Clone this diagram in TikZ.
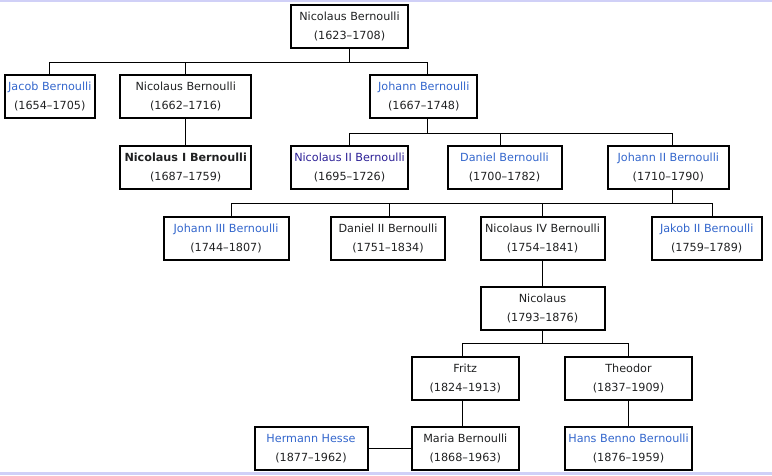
\documentclass[tikz,border=0pt]{standalone}
\usepackage{fontspec}
\setmainfont{DejaVu Sans}

\definecolor{linkblue}{RGB}{51,102,204}
\definecolor{visited}{RGB}{44,32,150}
\definecolor{ink}{RGB}{32,33,34}
\definecolor{band}{RGB}{208,208,247}

\newcommand{\wlink}[1]{\textcolor{linkblue}{#1}}
\newcommand{\wseen}[1]{\textcolor{visited}{#1}}

\begin{document}
\begin{tikzpicture}[
		x=1pt, y=-1pt,
		% Define styles
		person/.style={rectangle, draw=black, line width=2pt, minimum height=43pt, inner sep=0pt, align=center, text=ink, font=\fontsize{11.2}{19}\selectfont},
		branch/.style={draw=black, line width=1pt}
		]
		
		\useasboundingbox (0,0) rectangle (772,475);
		\fill[band] (0,0) rectangle (772,1.7);
		\fill[band] (0,472.3) rectangle (772,475);
		
		% Generation 1
		\node (nic1623) [person, minimum width=117pt] at (349.5,26.5) {Nicolaus Bernoulli\\(1623–1708)};
		
		% Generation 2
		\node (jacob) [person, minimum width=90pt] at (49.8,96.5) {\wlink{Jacob Bernoulli}\\(1654–1705)};
		\node (nic1662) [person, minimum width=131pt] at (185.7,96.5) {Nicolaus Bernoulli\\(1662–1716)};
		\node (johann) [person, minimum width=107pt] at (423.8,96.5) {\wlink{Johann Bernoulli}\\(1667–1748)};
		
		% Generation 3
		\node (nicI) [person, minimum width=131pt] at (185.7,167.5) {\textbf{Nicolaus I Bernoulli}\\(1687–1759)};
		\node (nicII) [person, minimum width=117pt] at (349.5,167.5) {\wseen{Nicolaus II Bernoulli}\\(1695–1726)};
		\node (daniel) [person, minimum width=114pt] at (504.5,167.5) {\wlink{Daniel Bernoulli}\\(1700–1782)};
		\node (johannII) [person, minimum width=121pt] at (668.3,167.5) {\wlink{Johann II Bernoulli}\\(1710–1790)};
		
		% Generation 4
		\node (johannIII) [person, minimum width=125pt] at (226,238) {\wlink{Johann III Bernoulli}\\(1744–1807)};
		\node (danielII) [person, minimum width=114pt] at (388,238) {Daniel II Bernoulli\\(1751–1834)};
		\node (nicIV) [person, minimum width=124pt] at (542.5,238) {Nicolaus IV Bernoulli\\(1754–1841)};
		\node (jakobII) [person, minimum width=110pt] at (706.7,238) {\wlink{Jakob II Bernoulli}\\(1759–1789)};
		
		% Generations 5 to 7
		\node (nicolaus) [person, minimum width=124pt] at (542.5,308.5) {Nicolaus\\(1793–1876)};
		\node (fritz) [person, minimum width=107pt] at (465.3,378.5) {Fritz\\(1824–1913)};
		\node (theodor) [person, minimum width=127pt] at (628.5,378.5) {Theodor\\(1837–1909)};
		\node (hesse) [person, minimum width=113pt] at (311,448.5) {\wlink{Hermann Hesse}\\(1877–1962)};
		\node (maria) [person, minimum width=107pt] at (465.3,448.5) {Maria Bernoulli\\(1868–1963)};
		\node (hans) [person, minimum width=127pt] at (628.5,448.5) {\wlink{Hans Benno Bernoulli}\\(1876–1959)};
		
		% Bars and drop points
		\coordinate (bar1) at (0,62.3);
		\coordinate (bar2) at (0,133.3);
		\coordinate (bar3) at (0,203.5);
		\coordinate (bar4) at (0,343.4);
		\coordinate (johann-up) at ([xshift=4pt]johann.north);
		\coordinate (johann-down) at ([xshift=4pt]johann.south);
		\coordinate (daniel-up) at ([xshift=-4pt]daniel.north);
		\coordinate (johannII-up) at ([xshift=4.4pt]johannII.north);
		\coordinate (johannII-down) at ([xshift=4.4pt]johannII.south);
		\coordinate (johannIII-up) at ([xshift=5.7pt]johannIII.north);
		\coordinate (danielII-up) at ([xshift=1.3pt]danielII.north);
		\coordinate (jakobII-up) at ([xshift=5.6pt]jakobII.north);
		\coordinate (fritz-up) at ([xshift=-3pt]fritz.north);
		\coordinate (fritz-down) at ([xshift=-3pt]fritz.south);
		\coordinate (maria-up) at ([xshift=-3pt]maria.north);
		
		% Draw connectors
		\draw [branch] (nic1623.south) -- (nic1623.south |- bar1);
		\draw [branch] (jacob.north) |- (johann-up |- bar1) -- (johann-up);
		\draw [branch] (nic1662.north) -- (nic1662.north |- bar1);
		\draw [branch] (nic1662.south) -- (nicI.north);
		
		\draw [branch] (johann-down) -- (johann-down |- bar2);
		\draw [branch] (nicII.north) |- (johannII-up |- bar2) -- (johannII-up);
		\draw [branch] (daniel-up) -- (daniel-up |- bar2);
		
		\draw [branch] (johannII-down) -- (johannII-down |- bar3);
		\draw [branch] (johannIII-up) |- (jakobII-up |- bar3) -- (jakobII-up);
		\draw [branch] (danielII-up) -- (danielII-up |- bar3);
		\draw [branch] (nicIV.north) -- (nicIV.north |- bar3);
		\draw [branch] (nicIV.south) -- (nicolaus.north);
		
		\draw [branch] (nicolaus.south) -- (nicolaus.south |- bar4);
		\draw [branch] (fritz-up) |- (theodor.north |- bar4) -- (theodor.north);
		\draw [branch] (fritz-down) -- (maria-up);
		\draw [branch] (theodor.south) -- (hans.north);
		\draw [branch] (hesse.east) -- (maria.west);
		
	\end{tikzpicture}
\end{document}
